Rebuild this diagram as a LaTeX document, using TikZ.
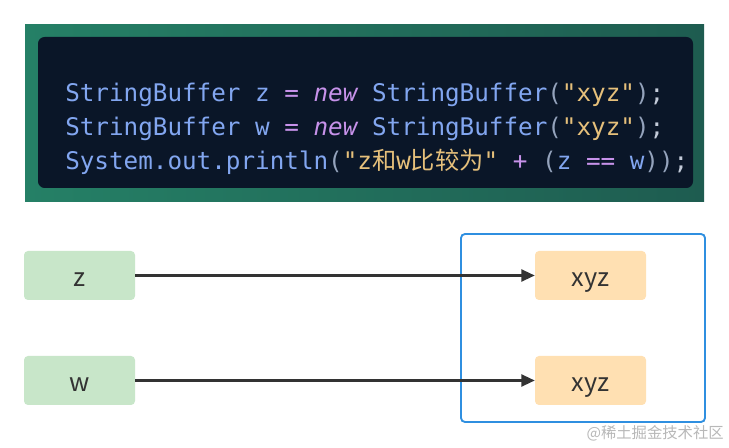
\documentclass[tikz,border=0pt]{standalone}
\usepackage{fontspec}
\newfontfamily\codefont{DejaVu Sans Mono}
\newfontfamily\cjk{Noto Sans CJK SC}
\usetikzlibrary{arrows.meta}
\definecolor{frameA}{HTML}{258066}
\definecolor{frameB}{HTML}{1E5C50}
\definecolor{codebg}{HTML}{0A1628}
\definecolor{cblue}{HTML}{82A6F0}
\definecolor{cpurple}{HTML}{C792EA}
\definecolor{cstr}{HTML}{E6C07B}
\definecolor{cpar}{HTML}{94A3BC}
\definecolor{csemi}{HTML}{C3CBD9}
\definecolor{vargreen}{HTML}{C8E6C9}
\definecolor{objorange}{HTML}{FFE0B2}
\definecolor{heapblue}{HTML}{2F8FE0}
\definecolor{txt}{HTML}{333333}
\newcommand{\kw}[1]{{\color{cpurple}\itshape #1}}
\newcommand{\op}[1]{{\color{cpurple}#1}}
\newcommand{\st}[1]{{\color{cstr}#1}}
\newcommand{\pa}[1]{{\color{cpar}#1}}
\newcommand{\sm}[1]{{\color{csemi}#1}}
\tikzset{
  boxbase/.style={rounded corners=3pt, minimum width=83.25pt, minimum height=36.75pt, inner sep=0pt, text=txt, text height=17pt, text depth=0pt, font=\cjk\fontsize{19}{22}\selectfont},
  varbox/.style={boxbase, fill=vargreen},
  objbox/.style={boxbase, fill=objorange},
  codeline/.style={anchor=base west, inner sep=0pt, text=cblue, font=\codefont\fontsize{18.2}{20}\selectfont},
  ref/.style={draw=txt, line width=1.6pt, -{Triangle[length=10pt,width=9pt]}},
}
\begin{document}
\begin{tikzpicture}[x=0.75pt,y=-0.75pt]
\useasboundingbox (0,0) rectangle (729,448);
\fill[white] (0,0) rectangle (729,448);
% code panel
\shade[left color=frameA, right color=frameB] (25,25) rectangle (704,202);
\fill[codebg, rounded corners=5pt] (38,37) rectangle (693,188);
\node[codeline] (l1) at (65,102) {StringBuffer z \op{=} \kw{new} StringBuffer\pa{(}\st{"xyz"}\pa{)}\sm{;}};
\node[codeline] (l2) at (65,136) {StringBuffer w \op{=} \kw{new} StringBuffer\pa{(}\st{"xyz"}\pa{)}\sm{;}};
\node[codeline] (l3) at (65,170) {System.out.println\pa{(}\st{"z{\cjk 和}w{\cjk 比较为}"} \op{+} \pa{(}z \op{==} w\pa{))}\sm{;}};
% heap frame
\draw[heapblue, line width=1.4pt, rounded corners=3pt] (461,234) rectangle (705,422);
% variables and objects
\node[varbox] (z) at (79.5,275.5) {z};
\node[varbox] (w) at (79.5,380.5) {w};
\node[objbox] (o1) at (590.5,275.5) {xyz};
\node[objbox] (o2) at (590.5,380.5) {xyz};
\draw[ref] (z.east) -- (o1.west);
\draw[ref] (w.east) -- (o2.west);
% watermark
\node[anchor=east, inner sep=0pt, text=black!28, font=\cjk\fontsize{11.5}{13}\selectfont] (wm) at (724,433) {@稀土掘金技术社区};
\end{tikzpicture}
\end{document}
